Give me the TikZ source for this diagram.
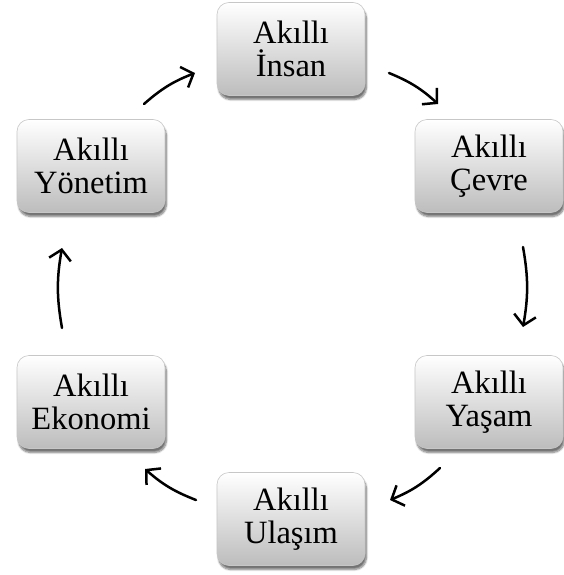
\documentclass[tikz,border=0pt]{standalone}
\usepackage{fontspec}
\setmainfont{Liberation Serif}
\usetikzlibrary{arrows.meta,shadows.blur}
\begin{document}
\begin{tikzpicture}[x=1pt,y=-1pt,
  card/.style={rectangle, rounded corners=12pt, minimum width=148pt, minimum height=93pt,
    top color=white, middle color=white, bottom color=black!26,
    draw=black!22, line width=0.6pt,
    blur shadow={shadow xshift=1.5pt, shadow yshift=-4pt, shadow blur steps=8, shadow opacity=55},
    align=center, inner sep=0pt, font=\fontsize{32.5}{33.5}\selectfont},
  flow/.style={line width=2.5pt, line cap=round, line join=round,
    -{Straight Barb[length=10pt,width=22pt,line width=2.5pt]}}]
  \useasboundingbox (0,0) rectangle (564,575);

  % the six cards of the cycle
  \node[card] (insan)   at (291,49)  {Akıllı\\İnsan};
  \node[card] (cevre)   at (489,166) {Akıllı\\Çevre};
  \node[card] (yasam)   at (489,402) {Akıllı\\Yaşam};
  \node[card] (ulasim)  at (291,519) {Akıllı\\Ulaşım};
  \node[card] (ekonomi) at (91,402)  {Akıllı\\Ekonomi};
  \node[card] (yonetim) at (91,166)  {Akıllı\\Yönetim};

  % arrow end points between neighbouring cards
  \coordinate (a1) at (144,104); \coordinate (b1) at (195,73);
  \coordinate (a2) at (389,73);  \coordinate (b2) at (438,104);
  \coordinate (a3) at (523,247); \coordinate (b3) at (523,327);
  \coordinate (a4) at (440,468); \coordinate (b4) at (390,500);
  \coordinate (a5) at (196,500); \coordinate (b5) at (145,469);
  \coordinate (a6) at (62,328);  \coordinate (b6) at (62,248);

  \draw[flow] (a1) to[bend left=10] (b1);
  \draw[flow] (a2) to[bend left=10] (b2);
  \draw[flow] (a3) to[bend left=10] (b3);
  \draw[flow] (a4) to[bend left=10] (b4);
  \draw[flow] (a5) to[bend left=10] (b5);
  \draw[flow] (a6) to[bend left=10] (b6);
\end{tikzpicture}
\end{document}
